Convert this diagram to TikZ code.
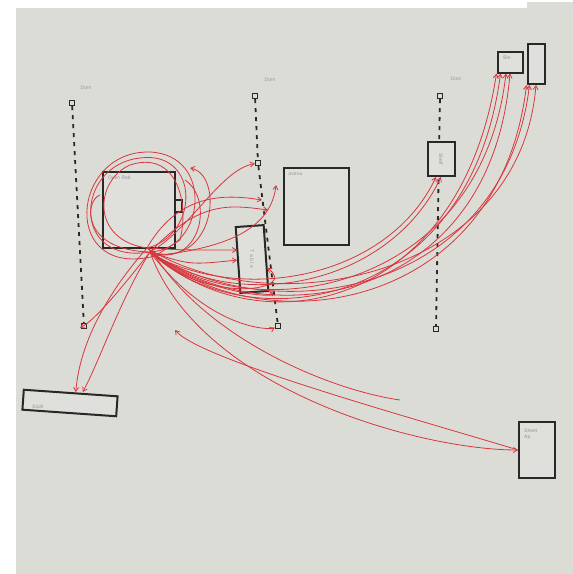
\documentclass[tikz,border=0pt]{standalone}
\usepackage{fontspec}
\setmainfont{Liberation Sans}
\usetikzlibrary{arrows.meta}
\definecolor{paper}{RGB}{220,220,215}
\definecolor{ink}{RGB}{40,40,40}
\definecolor{redink}{RGB}{215,55,60}
\definecolor{pencil}{RGB}{150,150,150}
\tikzset{
  furn/.style={draw=ink, line width=2pt, fill=paper!90!white, inner sep=0pt},
  lab/.style={text=pencil, font=\fontsize{5}{6}\selectfont, inner sep=0pt, align=left},
  post/.style={draw=ink, line width=1.4pt, minimum size=5pt, inner sep=0pt},
  rail/.style={draw=ink, line width=1.8pt, dash pattern=on 4pt off 5pt},
  flow/.style={draw=redink, line width=0.8pt, -{Straight Barb[length=4pt,width=5pt]}},
  loop/.style={draw=redink, line width=0.8pt},
}
\begin{document}
\begin{tikzpicture}[x=1pt,y=-1pt]
\useasboundingbox (0,0) rectangle (573,574);
\fill[white] (0,0) rectangle (573,574);
\fill[paper] (16,8) -- (527,8) -- (527,2) -- (573,2) -- (573,574) -- (16,574) -- cycle;

% rails
\node[post] (p1t) at (72,103) {};
\node[post] (p1b) at (84,326) {};
\draw[rail] (p1t) -- (p1b);
\node[post] (p2t) at (255,96) {};
\node[post] (p2m) at (258,163) {};
\node[post] (p2b) at (278,326) {};
\draw[rail] (p2t) -- (p2m);
\draw[rail] (p2m) -- (p2b);
\node[post] (p3t) at (440,96) {};
\node[post] (p3b) at (436,329) {};
\draw[rail] (p3t) -- (p3b);
\node[lab] at (86,88) {Dom};
\node[lab] at (270,80) {Dom};
\node[lab] at (456,79) {Dom};

% furniture
\node[furn, minimum width=72pt, minimum height=76pt] (A) at (139,210) {};
\node[lab, anchor=north west] at ([shift={(6,5)}]A.north west) {Oven Rob};
\draw[ink, line width=1.6pt] (176,200) -- (182,200) -- (182,212) -- (176,212);
\node[furn, minimum width=65pt, minimum height=77pt] (S) at (316,206) {};
\node[lab, anchor=north west] at ([shift={(6,6)}]S.north west) {ovenu};
\node[furn, minimum width=28pt, minimum height=66pt, rotate=4] (T) at (252,259) {};
\node[lab, rotate=-90] at (T) {T a b l e};
\node[furn, minimum width=27pt, minimum height=34pt] (R) at (441,159) {};
\node[lab, rotate=-90] at (R) {Shelf};
\node[furn, minimum width=25pt, minimum height=21pt] (B1) at (510,62) {};
\node[lab] at ([shift={(-3,-4)}]B1) {Bin};
\node[furn, minimum width=17pt, minimum height=40pt] (B2) at (536,64) {};
\node[furn, minimum width=94pt, minimum height=20pt, rotate=-4] (C) at (70,403) {};
\node[lab, anchor=west] at (32,407) {Stuhl};
\node[furn, minimum width=36pt, minimum height=56pt] (D) at (537,450) {};
\node[lab, anchor=north west] at ([shift={(6,8)}]D.north west) {Sheet\\Ap};

% hub
\coordinate (h) at (150,252);
\coordinate (h2) at (147,248);
\coordinate (h3) at (155,256);

% loops around A
\draw[loop] (h) .. controls (70,265) and (75,165) .. (140,158) .. controls (200,150) and (200,235) .. (h2);
\draw[loop] (h3) .. controls (60,280) and (70,150) .. (150,152) .. controls (215,155) and (205,250) .. (h);
\draw[loop] (h2) .. controls (90,240) and (95,180) .. (130,165) .. controls (175,150) and (190,200) .. (180,240) -- (h3);
\draw[loop] (h) .. controls (80,250) and (85,200) .. (100,195);
\draw[loop] (h) .. controls (200,270) and (215,200) .. (185,180);
\draw[flow] (h) .. controls (215,270) and (225,175) .. (190,168);

% to top right boxes
\draw[flow] (h) .. controls (260,350) and (460,310) .. (B1.south west);
\draw[flow] (h3) .. controls (250,340) and (470,310) .. ([xshift=4pt]B1.south west);
\draw[flow] (h2) .. controls (240,330) and (480,300) .. ([xshift=-4pt]B1.south);
\draw[flow] (h) .. controls (260,335) and (490,310) .. (B1.south);
\draw[flow] (h3) .. controls (270,345) and (500,310) .. (B2.south west);
\draw[flow] (h) .. controls (280,335) and (505,290) .. ([xshift=3pt]B2.south west);
\draw[flow] (h2) .. controls (270,325) and (520,280) .. (B2.south);

% to shelf
\draw[flow] (h) .. controls (240,315) and (390,285) .. (R.south);
\draw[flow] (h3) .. controls (250,305) and (390,275) .. ([xshift=-5pt]R.south);

% to table and rail 2
\draw[flow] (h) .. controls (190,265) .. (T.west);
\draw[flow] (h2) .. controls (180,250) .. ([yshift=10pt]T.west);
\draw[flow] (h) .. controls (200,295) and (290,300) .. (T.south east);
\draw[flow] (h3) .. controls (210,305) and (300,290) .. ([yshift=-10pt]T.east);
\draw[flow] (h) .. controls (200,200) and (230,205) .. (268,210);
\draw[flow] (h2) .. controls (180,190) and (230,195) .. (262,200);
\draw[flow] (h) .. controls (190,230) and (220,170) .. (p2m);
\draw[flow] (h3) .. controls (200,250) and (270,240) .. (276,185);
\draw[flow] (h) .. controls (210,330) and (270,330) .. (p2b);

% to left stuff
\draw[flow] (h) .. controls (120,300) and (100,360) .. ([xshift=12pt]C.north);
\draw[flow] (h2) .. controls (110,290) and (80,340) .. ([xshift=5pt]C.north);
\draw[flow] (h) .. controls (120,290) and (95,320) .. (80,328);

% to bottom right
\draw[flow] (h) .. controls (200,390) and (420,450) .. (D.west);
\draw[flow] (D.west) .. controls (420,420) and (200,360) .. (175,330);
\draw[loop] (h3) .. controls (210,340) and (330,390) .. (400,400);
\end{tikzpicture}
\end{document}
